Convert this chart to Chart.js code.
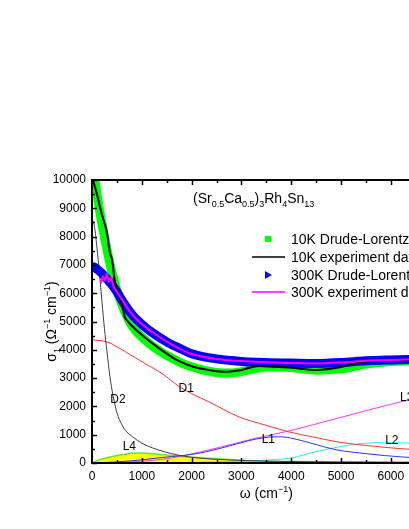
<!DOCTYPE html>
<html>
<head>
<meta charset="utf-8">
<script src="https://cdn.jsdelivr.net/npm/chart.js@4.4.1/dist/chart.umd.min.js"></script>
<style>
  html, body { margin: 0; padding: 0; background: #fff; overflow: hidden; }
  #wrap { width: 460px; height: 529px; }
</style>
</head>
<body>
<div id="wrap"><canvas id="sigmaChart" width="460" height="529"></canvas></div>
<script>
// frequency grid used for the two Drude-Lorentz fits (cm^-1)
const fitOmega = [0, 50, 100, 150, 200, 300, 400, 500, 600, 800, 1000, 1200, 1500, 1800, 2000, 2200, 2500, 2800, 3000, 3300, 3600, 4000, 4500, 5000, 5500, 6000, 6500, 7000];
const fit10K = [10500, 10100, 9500, 8950, 8450, 7550, 6750, 6100, 5600, 4850, 4450, 4150, 3800, 3530, 3400, 3300, 3200, 3180, 3230, 3350, 3400, 3370, 3280, 3330, 3500, 3590, 3610, 3630];
const fit300K = [6950, 6920, 6850, 6780, 6700, 6500, 6300, 6050, 5750, 5250, 4900, 4620, 4280, 4020, 3860, 3770, 3680, 3620, 3590, 3560, 3540, 3530, 3520, 3550, 3610, 3640, 3660, 3680];

// measured spectra
const exp10KOmega = [20, 60, 100, 160, 220, 300, 360, 400, 460, 520, 560, 620, 660, 700, 800, 1050, 1400, 1700, 2050, 2400, 2650, 3000, 3350, 3700, 4000, 4500, 5000, 5400, 5700, 6300, 7000];
const exp10K = [10000, 9750, 9500, 9050, 8650, 8150, 7420, 7200, 6400, 6050, 5850, 5450, 5150, 5050, 4850, 4450, 3990, 3640, 3390, 3270, 3220, 3290, 3430, 3400, 3370, 3290, 3390, 3570, 3600, 3640, 3660];
const exp300KOmega = [180, 220, 260, 300, 340, 380, 420, 500, 600, 800, 1000, 1400, 2000, 2600, 3000, 3500, 4000, 4500, 5000, 5500, 6000, 6500, 7000];
const exp300K = [6350, 6600, 6450, 6700, 6400, 6550, 6300, 6050, 5780, 5260, 4910, 4400, 3850, 3660, 3600, 3560, 3530, 3520, 3550, 3610, 3640, 3660, 3680];

// 10K fit components
const d1Omega = [0, 300, 700, 1050, 1400, 1750, 2000, 2350, 2950, 3500, 3950, 4500, 4950, 5500, 6250, 7000];
const d1 = [4350, 4280, 3900, 3530, 3170, 2700, 2450, 2160, 1630, 1330, 1100, 900, 740, 620, 500, 420];
const d2Omega = [0, 50, 100, 150, 200, 250, 300, 360, 420, 500, 600, 700, 820, 1000, 1220, 1450, 1700, 2000, 2500, 3000, 4000, 5000, 6000, 7000];
const d2 = [8650, 8350, 7600, 6700, 5700, 4750, 3950, 3050, 2400, 1780, 1350, 1100, 920, 700, 530, 400, 290, 200, 130, 90, 50, 30, 20, 15];
const l1Omega = [0, 500, 1000, 1300, 1600, 1950, 2300, 2600, 3000, 3300, 3600, 3800, 4000, 4400, 4900, 5500, 6250, 7000];
const l1 = [0, 40, 110, 175, 230, 290, 400, 530, 720, 850, 920, 925, 880, 700, 470, 330, 210, 150];
const l2Omega = [0, 2000, 3000, 3500, 4000, 4500, 4950, 5300, 5600, 6000, 6300, 6700, 7000];
const l2 = [0, 20, 60, 100, 180, 400, 570, 660, 710, 720, 710, 650, 580];
const l3Omega = [0, 500, 1000, 1300, 1700, 2200, 2600, 3300, 3950, 4950, 6200, 7000];
const l3 = [0, 20, 60, 110, 210, 400, 570, 880, 1130, 1590, 2160, 2450];
const l4Omega = [0, 150, 360, 620, 950, 1290, 1690, 2290, 3280, 4000, 5000, 6000, 7000];
const l4 = [0, 110, 210, 300, 350, 320, 250, 175, 70, 55, 45, 35, 30];

// component labels: [text, omega, sigma]
const componentLabels = [
    ['D2', 520, 2230],
    ['D1', 1890, 2610],
    ['L4', 750, 570],
    ['L1', 3540, 820],
    ['L2', 6020, 780],
    ['L3', 6320, 2300]
];

const xTicks = [0, 1000, 2000, 3000, 4000, 5000, 6000, 7000];
const yTicks = [0, 1000, 2000, 3000, 4000, 5000, 6000, 7000, 8000, 9000, 10000];

const FONT = "Arial, 'Liberation Sans', sans-serif";

function pts(xs, ys) {
    return xs.map(function(x, i) { return { x: x, y: ys[i] }; });
}

function line(label, xs, ys, color, width, order, extra) {
    return Object.assign({
        label: label,
        data: pts(xs, ys),
        borderColor: color,
        backgroundColor: color,
        borderWidth: width,
        pointRadius: 0,
        cubicInterpolationMode: 'monotone',
        fill: false,
        order: order
    }, extra || {});
}

// text with sub/superscripts: parts = [[text, 'n'|'sub'|'sup'], ...]
function richWidth(ctx, parts, size) {
    let w = 0;
    parts.forEach(function(p) {
        ctx.font = (p[1] === 'n' ? size : Math.round(size * 0.65)) + 'px ' + FONT;
        w += ctx.measureText(p[0]).width;
    });
    return w;
}

function drawRich(ctx, parts, x, y, size) {
    ctx.textBaseline = 'alphabetic';
    ctx.textAlign = 'left';
    parts.forEach(function(p) {
        const small = Math.round(size * 0.65);
        let dy = 0;
        if (p[1] === 'sub') dy = size * 0.3;
        if (p[1] === 'sup') dy = -size * 0.42;
        ctx.font = (p[1] === 'n' ? size : small) + 'px ' + FONT;
        ctx.fillText(p[0], x, y + dy);
        x += ctx.measureText(p[0]).width;
    });
}

const decorPlugin = {
    id: 'decor',
    afterDraw: function(chart) {
        const ctx = chart.ctx;
        const a = chart.chartArea;
        const xs = chart.scales.x, ys = chart.scales.y;
        ctx.save();
        ctx.fillStyle = '#000';
        ctx.strokeStyle = '#000';

        // frame
        ctx.lineWidth = 2;
        ctx.beginPath();
        ctx.moveTo(a.left, a.bottom);
        ctx.lineTo(a.left, a.top);
        ctx.lineTo(a.right, a.top);
        ctx.moveTo(a.left - 1, a.bottom);
        ctx.lineTo(a.right, a.bottom);
        ctx.stroke();

        // inward ticks
        ctx.lineWidth = 1.5;
        ctx.beginPath();
        for (let v = 0; v <= 10000; v += 500) {
            const y = Math.round(ys.getPixelForValue(v)) + 0.5;
            const len = v % 1000 === 0 ? 5 : 3;
            ctx.moveTo(a.left, y);
            ctx.lineTo(a.left + len, y);
        }
        for (let v = 500; v <= 7000; v += 500) {
            const x = Math.round(xs.getPixelForValue(v)) + 0.5;
            const len = v % 1000 === 0 ? 5 : 3;
            ctx.moveTo(x, a.top);
            ctx.lineTo(x, a.top + len);
            ctx.moveTo(x, a.bottom);
            ctx.lineTo(x, a.bottom - len);
        }
        ctx.stroke();

        // component labels
        ctx.font = '12px ' + FONT;
        ctx.textAlign = 'center';
        ctx.textBaseline = 'middle';
        componentLabels.forEach(function(c) {
            ctx.fillText(c[0], xs.getPixelForValue(c[1]), ys.getPixelForValue(c[2]));
        });

        // compound name
        const title = [['(Sr', 'n'], ['0.5', 'sub'], ['Ca', 'n'], ['0.5', 'sub'], [')', 'n'], ['3', 'sub'],
                       ['Rh', 'n'], ['4', 'sub'], ['Sn', 'n'], ['13', 'sub']];
        drawRich(ctx, title, 193, 203, 14);

        // axis titles
        const xt = [['\u03c9 (cm', 'n'], ['\u22121', 'sup'], [')', 'n']];
        const xw = richWidth(ctx, xt, 14);
        drawRich(ctx, xt, (a.left + a.right) / 2 - xw / 2, 498, 14);

        const yt = [['\u03c3', 'n'], ['1', 'sub'], [' (\u03a9', 'n'], ['\u22121', 'sup'], [' cm', 'n'], ['\u22121', 'sup'], [')', 'n']];
        const yw = richWidth(ctx, yt, 14);
        ctx.save();
        ctx.translate(56, (a.top + a.bottom) / 2);
        ctx.rotate(-Math.PI / 2);
        drawRich(ctx, yt, -yw / 2, 0, 14);
        ctx.restore();

        // legend
        const lx = 268, tx = 291;
        const rows = [239, 257, 275, 292];
        ctx.fillStyle = '#00ff00';
        ctx.fillRect(lx - 3, rows[0] - 3, 6, 6);
        ctx.strokeStyle = '#000';
        ctx.lineWidth = 1.5;
        ctx.beginPath(); ctx.moveTo(252, rows[1]); ctx.lineTo(285, rows[1]); ctx.stroke();
        ctx.fillStyle = '#0000ff';
        ctx.beginPath();
        ctx.moveTo(lx - 3, rows[2] - 4); ctx.lineTo(lx + 4, rows[2]); ctx.lineTo(lx - 3, rows[2] + 4);
        ctx.closePath(); ctx.fill();
        ctx.strokeStyle = '#ff00ff';
        ctx.beginPath(); ctx.moveTo(252, rows[3]); ctx.lineTo(285, rows[3]); ctx.stroke();
        ctx.fillStyle = '#000';
        ctx.font = '14px ' + FONT;
        ctx.textAlign = 'left';
        ctx.textBaseline = 'middle';
        ['10K Drude-Lorentz fit', '10K experiment data', '300K Drude-Lorentz fit', '300K experiment data']
            .forEach(function(t, i) { ctx.fillText(t, tx, rows[i] + 1); });

        ctx.restore();
    }
};

new Chart(document.getElementById('sigmaChart'), {
    type: 'line',
    data: {
        datasets: [
            line('300K experiment data', exp300KOmega, exp300K, '#ff00ff', 2, 0),
            line('10K experiment data', exp10KOmega, exp10K, '#000000', 2, 1),
            line('300K Drude-Lorentz fit', fitOmega, fit300K, '#0000ff', 9, 2),
            line('10K Drude-Lorentz fit', fitOmega, fit10K, '#00ff00', 9, 3),
            line('D2', d2Omega, d2, '#404040', 1, 4),
            line('D1', d1Omega, d1, '#ff3030', 1, 5),
            line('L1', l1Omega, l1, '#3030ff', 1, 6),
            line('L2', l2Omega, l2, '#20f0f0', 1, 7),
            line('L3', l3Omega, l3, '#ff30ff', 1, 8),
            line('L4', l4Omega, l4, '#66e62e', 1.5, 9, { fill: 'origin', backgroundColor: '#ffff00' })
        ]
    },
    options: {
        responsive: false,
        animation: false,
        layout: { padding: { top: 180, right: 16, left: 0, bottom: 0 } },
        plugins: {
            legend: { display: false },
            tooltip: { enabled: false }
        },
        scales: {
            x: {
                type: 'linear',
                min: 0,
                max: 7000,
                afterBuildTicks: function(scale) { scale.ticks = xTicks.map(function(v) { return { value: v }; }); },
                afterFit: function(scale) { scale.height = 66; },
                grid: { display: false, drawTicks: false },
                border: { display: false },
                ticks: {
                    color: '#000', padding: 6, maxRotation: 0, font: { size: 12, family: FONT },
                    callback: function(v) { return String(v); }
                }
            },
            y: {
                type: 'linear',
                min: 0,
                max: 10000,
                afterBuildTicks: function(scale) { scale.ticks = yTicks.map(function(v) { return { value: v }; }); },
                afterFit: function(scale) { scale.width = 92; },
                grid: { display: false, drawTicks: false },
                border: { display: false },
                ticks: {
                    color: '#000', padding: 6, font: { size: 12, family: FONT },
                    callback: function(v) { return String(v); }
                }
            }
        }
    },
    plugins: [decorPlugin]
});
</script>
</body>
</html>
